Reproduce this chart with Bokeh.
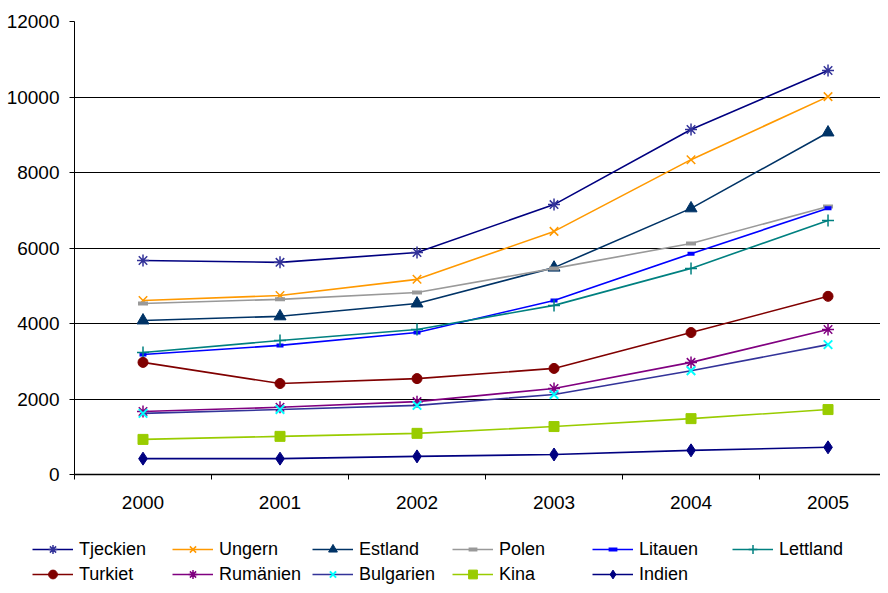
from bokeh.plotting import figure
from bokeh.models import Range1d, FixedTicker, Legend, LegendItem
from bokeh.layouts import column
from bokeh.embed import file_html
from bokeh.resources import INLINE

years = [2000, 2001, 2002, 2003, 2004, 2005]

tjeckien = [5670, 5620, 5880, 7150, 9140, 10700]
ungern = [4610, 4740, 5170, 6440, 8340, 10010]
estland = [4080, 4190, 4530, 5480, 7050, 9060]
polen = [4530, 4640, 4820, 5460, 6120, 7100]
litauen = [3180, 3420, 3760, 4610, 5850, 7050]
lettland = [3230, 3550, 3840, 4480, 5460, 6730]
turkiet = [2970, 2410, 2540, 2810, 3760, 4720]
rumanien = [1670, 1780, 1930, 2280, 2970, 3840]
bulgarien = [1620, 1720, 1830, 2120, 2750, 3440]
kina = [930, 1010, 1090, 1270, 1480, 1720]
indien = [420, 420, 480, 530, 640, 720]

y_ticks = [0, 2000, 4000, 6000, 8000, 10000, 12000]

series = [
    ("Tjeckien", tjeckien, "#000080", "#333399", "asterisk", 12, 1.5),
    ("Ungern", ungern, "#FF9900", "#FF9900", "x", 12, 1.5),
    ("Estland", estland, "#003366", "#003366", "triangle", 12, 1),
    ("Polen", polen, "#999999", "#999999", "dash", 10, 4),
    ("Litauen", litauen, "#0000FF", "#0000FF", "dash", 7, 4),
    ("Lettland", lettland, "#008080", "#008080", "cross", 12, 1.5),
    ("Turkiet", turkiet, "#800000", "#800000", "circle", 10, 1),
    ("Rumänien", rumanien, "#800080", "#800080", "asterisk", 12, 1.5),
    ("Bulgarien", bulgarien, "#333399", "#00FFFF", "x", 12, 2),
    ("Kina", kina, "#99CC00", "#99CC00", "square", 10, 1),
    ("Indien", indien, "#000080", "#000080", "diamond", 13, 1),
]

FONT = "Liberation Sans"

p = figure(width=880, height=520, output_backend="svg", toolbar_location=None,
           x_range=Range1d(1999.5, 2005.383), y_range=Range1d(0, 12000),
           min_border_left=74, min_border_right=0, min_border_top=21,
           min_border_bottom=46)
p.outline_line_color = None
p.background_fill_color = "white"
p.border_fill_color = "white"

p.xaxis.ticker = FixedTicker(ticks=years, minor_ticks=[y - 0.5 for y in years] + [2005.5])
p.xaxis.major_tick_out = 0
p.xaxis.major_tick_in = 0
p.xaxis.minor_tick_in = 0
p.xaxis.minor_tick_out = 5
p.xaxis.minor_tick_line_color = "black"
p.xaxis.axis_line_color = "black"
p.xaxis.axis_line_width = 1.5
p.xaxis.major_label_standoff = 16
p.xaxis.major_label_text_font = FONT
p.xaxis.major_label_text_font_size = "19px"
p.xaxis.major_label_text_color = "black"

p.yaxis.ticker = FixedTicker(ticks=y_ticks)
p.yaxis.minor_tick_line_color = None
p.yaxis.major_tick_in = 0
p.yaxis.major_tick_out = 5
p.yaxis.major_tick_line_color = "black"
p.yaxis.axis_line_color = "black"
p.yaxis.major_label_standoff = 10
p.yaxis.major_label_text_font = FONT
p.yaxis.major_label_text_font_size = "19px"
p.yaxis.major_label_text_color = "black"

p.xgrid.grid_line_color = None
p.ygrid.grid_line_color = "black"
p.ygrid.grid_line_width = 1

lf = figure(width=880, height=65, output_backend="svg", toolbar_location=None,
            x_range=Range1d(0, 1), y_range=Range1d(0, 1),
            x_axis_location=None, y_axis_location=None,
            min_border_left=0, min_border_right=0, min_border_top=0,
            min_border_bottom=0)
lf.outline_line_color = None
lf.xgrid.grid_line_color = None
lf.ygrid.grid_line_color = None
lf.background_fill_color = "white"
lf.border_fill_color = "white"

# do not align the legend strip's frame with the chart's frame
for fig in (p, lf):
    try:
        fig.frame_align = False
    except Exception:
        pass

items = {}
for name, vals, lc, mc, marker, size, mlw in series:
    p.line(years, vals, line_color=lc, line_width=1.6)
    p.scatter(years, vals, marker=marker, size=size, line_color=mc,
              fill_color=mc, line_width=mlw)
    kl = lf.line([-5, -4], [-5, -5], line_color=lc, line_width=1.6)
    ks = lf.scatter([-5], [-5], marker=marker, size=size, line_color=mc,
                    fill_color=mc, line_width=mlw)
    items[name] = LegendItem(label=name, renderers=[kl, ks])

# legend fills column by column (2 rows)
order = ["Tjeckien", "Turkiet", "Ungern", "Rumänien", "Estland", "Bulgarien",
         "Polen", "Kina", "Litauen", "Indien", "Lettland"]
legend = Legend(items=[items[n] for n in order], ncols=6, location=(32, 0),
                padding=0, margin=0, spacing=3,
                glyph_width=41, glyph_height=22, label_height=22,
                label_width=90, label_standoff=6,
                border_line_color=None, background_fill_alpha=0,
                label_text_font=FONT, label_text_font_size="18px",
                label_text_color="black", label_text_baseline="middle")
lf.add_layout(legend, "center")

open("out.html", "w").write(file_html(column(p, lf, spacing=0), INLINE))
